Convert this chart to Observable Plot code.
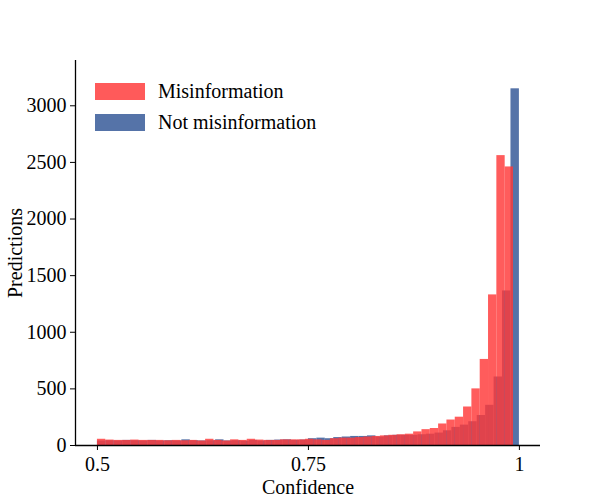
<!DOCTYPE html>
<html>
<head>
<meta charset="utf-8">
<script src="https://cdn.jsdelivr.net/npm/d3@7"></script>
<script src="https://cdn.jsdelivr.net/npm/@observablehq/plot@0.6"></script>
<style>
  body { margin: 0; background: #fff; }
  #wrap { position: relative; width: 600px; height: 500px; font-family: "Liberation Serif", "DejaVu Serif", serif; }
  .leg { position: absolute; left: 95px; font-size: 20px; display: flex; align-items: center; }
  .sw { width: 50px; height: 17px; margin-right: 13px; }
</style>
</head>
<body>
<div id="wrap"></div>
<script>
// histogram counts per bin, left (0.5) to right
const misinfo = [55,48,45,45,48,45,45,45,42,45, 42,45,40,55,45,40,50,45,55,48,
  45,45,50,50,50,55,50,45,60,65, 65,70,75,80,85,90,95,100,120,140,
  150,190,225,250,340,500,760,1330,2560,2460];
const notMisinfo = [40,42,40,45,42,40,45,40,42,40, 50,42,40,42,50,40,42,38,45,40,
  45,48,50,45,48,60,65,60,70,75, 80,80,85,75,85,90,90,90,95,100,
  110,130,160,180,210,265,355,605,1365,3150];
const redRange = [0.5, 0.993];
const blueRange = [0.5, 1.0];
const xTicks = [0.5, 0.75, 1];
const yTicks = [0, 500, 1000, 1500, 2000, 2500, 3000];

const bins = (vals, [lo, hi]) => {
  const w = (hi - lo) / vals.length;
  return vals.map((v, i) => ({ x1: lo + i * w, x2: lo + (i + 1) * w, y: v }));
};
const red = bins(misinfo, redRange);
const blue = bins(notMisinfo, blueRange);

const chart = Plot.plot({
  width: 600, height: 500,
  marginLeft: 75, marginRight: 60, marginTop: 60, marginBottom: 55,
  style: { fontFamily: "Liberation Serif, DejaVu Serif, serif", fontSize: "16px" },
  x: { domain: [0.474, 1.025] },
  y: { domain: [0, 3400] },
  marks: [
    Plot.rectY(blue, { x1: "x1", x2: "x2", y: "y", fill: "#5573a8" }),
    Plot.rectY(red, { x1: "x1", x2: "x2", y: "y", fill: "#ff3838", fillOpacity: 0.82 }),
    Plot.ruleY([0], { stroke: "#000", strokeWidth: 1.3 }),
    Plot.ruleX([0.474], { stroke: "#000", strokeWidth: 1.3 }),
    Plot.axisX({ ticks: xTicks, tickFormat: d => String(d), tickSize: 5, tickPadding: 6,
      label: "Confidence", labelAnchor: "center", labelArrow: "none", labelOffset: 48, fontSize: 16 }),
    Plot.axisY({ ticks: yTicks, tickFormat: d => String(d), tickSize: 5, tickPadding: 4,
      label: "Predictions", labelAnchor: "center", labelArrow: "none", labelOffset: 68, fontSize: 16 })
  ]
});
chart.querySelectorAll('[aria-label$="label"] text, [aria-label="x-axis label"], [aria-label="y-axis label"]').forEach(t => t.style.fontSize = "20px");

const wrap = d3.select("#wrap");
wrap.append(() => chart);
[["Misinformation", "#ff5a5a", 80], ["Not misinformation", "#5573a8", 111]].forEach(([t, c, top]) => {
  const d = wrap.append("div").attr("class", "leg").style("top", top + "px");
  d.append("div").attr("class", "sw").style("background", c);
  d.append("span").text(t);
});
</script>
</body>
</html>
